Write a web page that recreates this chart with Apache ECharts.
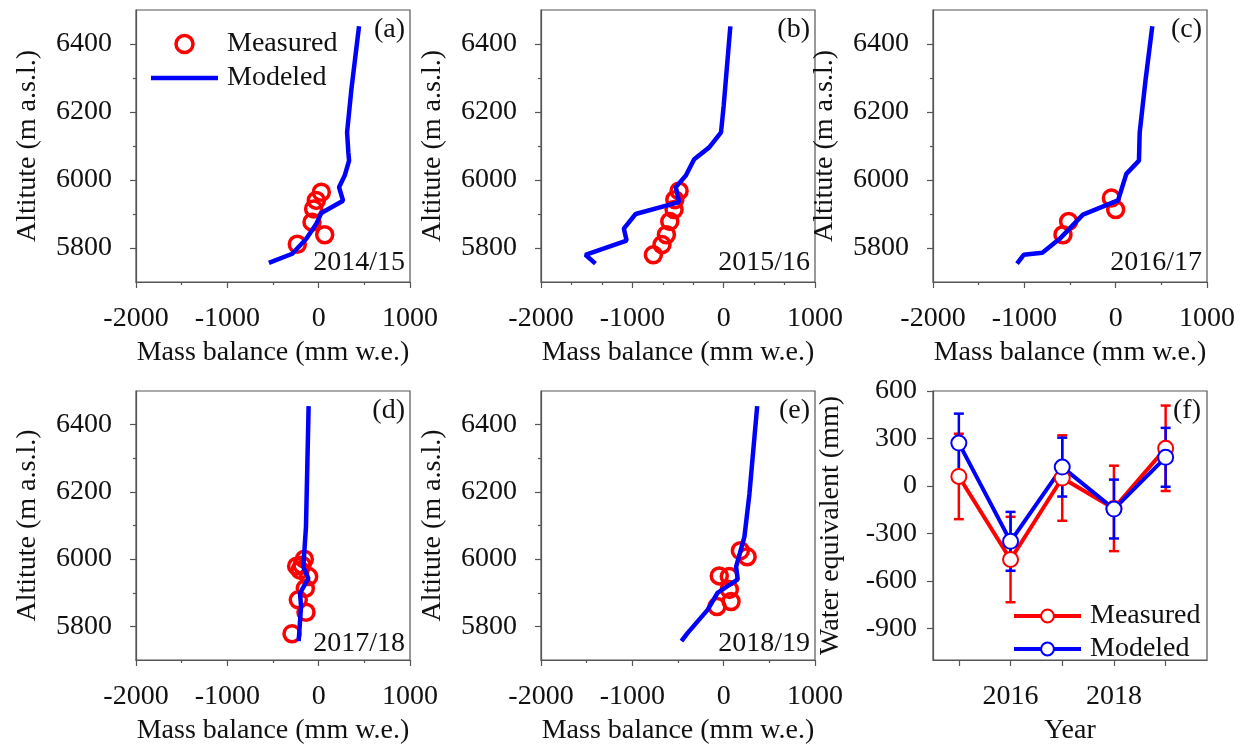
<!DOCTYPE html>
<html>
<head>
<meta charset="utf-8">
<script src="https://cdn.jsdelivr.net/npm/echarts@6/dist/echarts.min.js"></script>
<style>html,body{margin:0;background:#fff}#chart{width:1246px;height:746px}</style>
</head>
<body>
<div id="chart"></div>
<script>
/* 物质平衡剖面 + 年度水当量对比 */

// (a) 2014/15
var measuredA_x = [-234, 66, -73, -55, -26, 29];
var measuredA_y = [5811, 5839, 5876, 5915, 5940, 5964];
var modeledA_x = [-545, -289, -135, -26, 29, 267, 223, 285, 333, 325, 311, 358, 442];
var modeledA_y = [5756, 5783, 5827, 5871, 5903, 5939, 5979, 6013, 6057, 6081, 6140, 6266, 6452];

// (b) 2015/16
var measuredB_x = [-770, -675, -627, -590, -543, -535, -488];
var measuredB_y = [5780, 5810, 5839, 5878, 5913, 5942, 5968];
var modeledB_x = [-1404, -1514, -1063, -1093, -964, -488, -524, -414, -323, -158, -29, 0, 73];
var modeledB_y = [5754, 5780, 5822, 5857, 5900, 5935, 5979, 6013, 6061, 6096, 6140, 6218, 6452];

// (c) 2016/17
var measuredC_x = [-577, -515, -47, 0];
var measuredC_y = [5839, 5878, 5947, 5913];
var modeledC_x = [-1080, -1007, -803, -613, -358, 26, 117, 255, 263, 328, 401];
var modeledC_y = [5754, 5780, 5786, 5827, 5898, 5940, 6018, 6057, 6140, 6296, 6452];

// (d) 2017/18
var measuredD_x = [-292, -139, -223, -146, -109, -204, -182, -157, -241];
var measuredD_y = [5778, 5842, 5879, 5913, 5948, 5967, 5982, 6000, 5979];
var modeledD_x = [-219, -193, -204, -113, -168, -139, -110];
var modeledD_y = [5756, 5859, 5899, 5943, 5977, 6096, 6455];

// (e) 2018/19
var measuredE_x = [-73, 81, 62, -48, 62, 183, 257];
var measuredE_y = [5859, 5874, 5910, 5950, 5948, 6025, 6007];
var modeledE_x = [-462, -396, -176, -66, 154, 136, 227, 282, 367];
var modeledE_y = [5756, 5780, 5849, 5900, 5940, 5977, 6066, 6194, 6455];

// (f) 年度物质平衡
var years = [2015, 2016, 2017, 2018, 2019];
var measuredWE = [60, -465, 50, -142, 238];
var measuredErr = [270, 270, 270, 270, 270];
var modeledWE = [271, -350, 119, -146, 181];
var modeledErr = [186, 186, 186, 186, 186];

// 刻度
var altTicks = [5800, 6000, 6200, 6400];
var altMinorTicks = [5900, 6100, 6300];
var yearTicks = [2015, 2016, 2017, 2018, 2019];
var yearLabels = [2016, 2018];
var weTicks = [-900, -600, -300, 0, 300, 600];

var FONT = '"Liberation Serif", "Times New Roman", serif';
var AXIS_COLOR = '#555';
var RED = '#ff0000';
var BLUE = '#0000ff';

function zip(a, b) {
    return a.map(function (v, i) { return [v, b[i]]; });
}

function txt(size) {
    return { fontFamily: FONT, fontSize: size || 28, color: '#111', fontWeight: 'normal', lineHeight: 28 };
}

function plain(v) { return String(v); } // 不要千分位

var axisLineStyle = { color: AXIS_COLOR, width: 1.2 };

var panels = [
    { left: 136, top: 10, label: '(a)', season: '2014/15', mx: measuredA_x, my: measuredA_y, lx: modeledA_x, ly: modeledA_y, minor: 2 },
    { left: 541, top: 10, label: '(b)', season: '2015/16', mx: measuredB_x, my: measuredB_y, lx: modeledB_x, ly: modeledB_y, minor: 3 },
    { left: 933, top: 10, label: '(c)', season: '2016/17', mx: measuredC_x, my: measuredC_y, lx: modeledC_x, ly: modeledC_y, minor: 2 },
    { left: 136, top: 391, label: '(d)', season: '2017/18', mx: measuredD_x, my: measuredD_y, lx: modeledD_x, ly: modeledD_y, minor: 2 },
    { left: 541, top: 391, label: '(e)', season: '2018/19', mx: measuredE_x, my: measuredE_y, lx: modeledE_x, ly: modeledE_y, minor: 2 }
];

var grids = [], xAxes = [], yAxes = [], series = [], titles = [];

panels.forEach(function (p, i) {
    grids.push({ left: p.left, top: p.top, width: 274, height: 272, show: true, borderColor: AXIS_COLOR, borderWidth: 1.2 });
    xAxes.push({
        gridIndex: i, type: 'value', min: -2000, max: 1000, interval: 1000,
        name: 'Mass balance (mm w.e.)', nameLocation: 'middle', nameGap: 57, nameTextStyle: txt(),
        axisLine: { show: true, onZero: false, lineStyle: axisLineStyle },
        axisTick: { show: true, inside: false, length: 6, lineStyle: axisLineStyle },
        minorTick: { show: true, splitNumber: p.minor, length: 3, lineStyle: axisLineStyle },
        axisLabel: Object.assign({ margin: 23, formatter: plain }, txt()),
        splitLine: { show: false }
    });
    yAxes.push({
        gridIndex: i, type: 'value', position: 'left', min: 5700, max: 6500,
        name: 'Altitute (m a.s.l.)', nameLocation: 'middle', nameGap: 94, nameRotate: 90, nameTextStyle: txt(),
        axisLine: { show: true, onZero: false, lineStyle: axisLineStyle },
        axisTick: { show: true, length: 6, customValues: altTicks, lineStyle: axisLineStyle },
        axisLabel: Object.assign({ margin: 24, customValues: altTicks, formatter: plain }, txt()),
        splitLine: { show: false }
    });
    // 次刻度
    yAxes.push({
        gridIndex: i, type: 'value', position: 'left', min: 5700, max: 6500,
        axisLine: { show: false, onZero: false },
        axisTick: { show: true, length: 3, customValues: altMinorTicks, lineStyle: axisLineStyle },
        axisLabel: { show: false },
        splitLine: { show: false }
    });
    series.push({
        type: 'scatter', name: 'Measured', xAxisIndex: i, yAxisIndex: 2 * i,
        data: zip(p.mx, p.my), symbol: 'circle', symbolSize: 16,
        itemStyle: { color: 'rgba(255,255,255,0)', borderColor: RED, borderWidth: 3.5, opacity: 1 }
    });
    series.push({
        type: 'line', name: 'Modeled', xAxisIndex: i, yAxisIndex: 2 * i,
        data: zip(p.lx, p.ly), symbol: 'none', showSymbol: false,
        lineStyle: { color: BLUE, width: 4.5 }, itemStyle: { color: BLUE }
    });
    titles.push({ text: p.label, right: 1246 - p.left - 269, top: p.top + 6, padding: 0, textStyle: txt() });
    titles.push({ text: p.season, right: 1246 - p.left - 269, top: p.top + 239, padding: 0, textStyle: txt() });
});

// (f)
var fi = panels.length;
grids.push({ left: 933, top: 391, width: 274, height: 272, show: true, borderColor: AXIS_COLOR, borderWidth: 1.2 });
xAxes.push({
    gridIndex: fi, type: 'value', min: 2014.5, max: 2019.8,
    name: 'Year', nameLocation: 'middle', nameGap: 57, nameTextStyle: txt(),
    axisLine: { show: true, onZero: false, lineStyle: axisLineStyle },
    axisTick: { show: true, length: 6, customValues: yearTicks, lineStyle: axisLineStyle },
    axisLabel: Object.assign({ margin: 23, customValues: yearLabels, formatter: plain }, txt()),
    splitLine: { show: false }
});
yAxes.push({
    gridIndex: fi, type: 'value', position: 'left', min: -1100, max: 600,
    name: 'Water equivalent (mm)', nameLocation: 'middle', nameGap: 88, nameRotate: 90, nameTextStyle: txt(),
    axisLine: { show: true, onZero: false, lineStyle: axisLineStyle },
    axisTick: { show: true, length: 6, customValues: weTicks, lineStyle: axisLineStyle },
    axisLabel: Object.assign({ margin: 16, customValues: weTicks, formatter: plain }, txt()),
    splitLine: { show: false }
});
titles.push({ text: '(f)', right: 1246 - 1201, top: 397, padding: 0, textStyle: txt() });

function errorBar(name, color, values, errs) {
    return {
        type: 'custom', name: name, xAxisIndex: fi, yAxisIndex: 2 * fi,
        data: years.map(function (y, i) { return [y, values[i], errs[i]]; }),
        renderItem: function (params, api) {
            var x = api.value(0), v = api.value(1), e = api.value(2);
            var top = api.coord([x, v + e]);
            var bot = api.coord([x, v - e]);
            var w = 5;
            var st = { stroke: color, lineWidth: 2.5 };
            return {
                type: 'group',
                children: [
                    { type: 'line', shape: { x1: top[0], y1: top[1], x2: bot[0], y2: bot[1] }, style: st },
                    { type: 'line', shape: { x1: top[0] - w, y1: top[1], x2: top[0] + w, y2: top[1] }, style: st },
                    { type: 'line', shape: { x1: bot[0] - w, y1: bot[1], x2: bot[0] + w, y2: bot[1] }, style: st }
                ]
            };
        },
        silent: true
    };
}

series.push(errorBar('errM', RED, measuredWE, measuredErr));
series.push({
    type: 'line', name: 'Measured (f)', xAxisIndex: fi, yAxisIndex: 2 * fi,
    data: zip(years, measuredWE), symbol: 'emptyCircle', symbolSize: 15, showSymbol: true,
    lineStyle: { color: RED, width: 4 }, itemStyle: { color: RED, borderWidth: 3 }
});
series.push(errorBar('errB', BLUE, modeledWE, modeledErr));
series.push({
    type: 'line', name: 'Modeled (f)', xAxisIndex: fi, yAxisIndex: 2 * fi,
    data: zip(years, modeledWE), symbol: 'emptyCircle', symbolSize: 15, showSymbol: true,
    lineStyle: { color: BLUE, width: 4 }, itemStyle: { color: BLUE, borderWidth: 3 }
});

var option = {
    animation: false,
    backgroundColor: '#fff',
    title: titles,
    grid: grids,
    xAxis: xAxes,
    yAxis: yAxes,
    legend: [
        {
            left: 146, top: 25, orient: 'vertical', itemWidth: 67, itemHeight: 17, itemGap: 6,
            data: [
                { name: 'Measured', itemStyle: { color: 'rgba(255,255,255,0)', borderColor: RED, borderWidth: 3.5 } },
                { name: 'Modeled', icon: 'path://M0,0L67,0L67,4.5L0,4.5Z', itemStyle: { color: BLUE } }
            ],
            textStyle: Object.assign({ padding: [0, 0, 0, 4] }, txt())
        },
        {
            left: 1007, top: 597, orient: 'vertical', itemWidth: 67, itemHeight: 16, itemGap: 5,
            data: [
                { name: 'Measured (f)', lineStyle: { width: 4 } },
                { name: 'Modeled (f)', lineStyle: { width: 4 } }
            ],
            formatter: function (name) { return name.replace(' (f)', ''); },
            textStyle: Object.assign({ padding: [0, 0, 0, 4] }, txt())
        }
    ],
    series: series
};

var myChart = echarts.init(document.getElementById('chart'));
myChart.setOption(option);
</script>
</body>
</html>
